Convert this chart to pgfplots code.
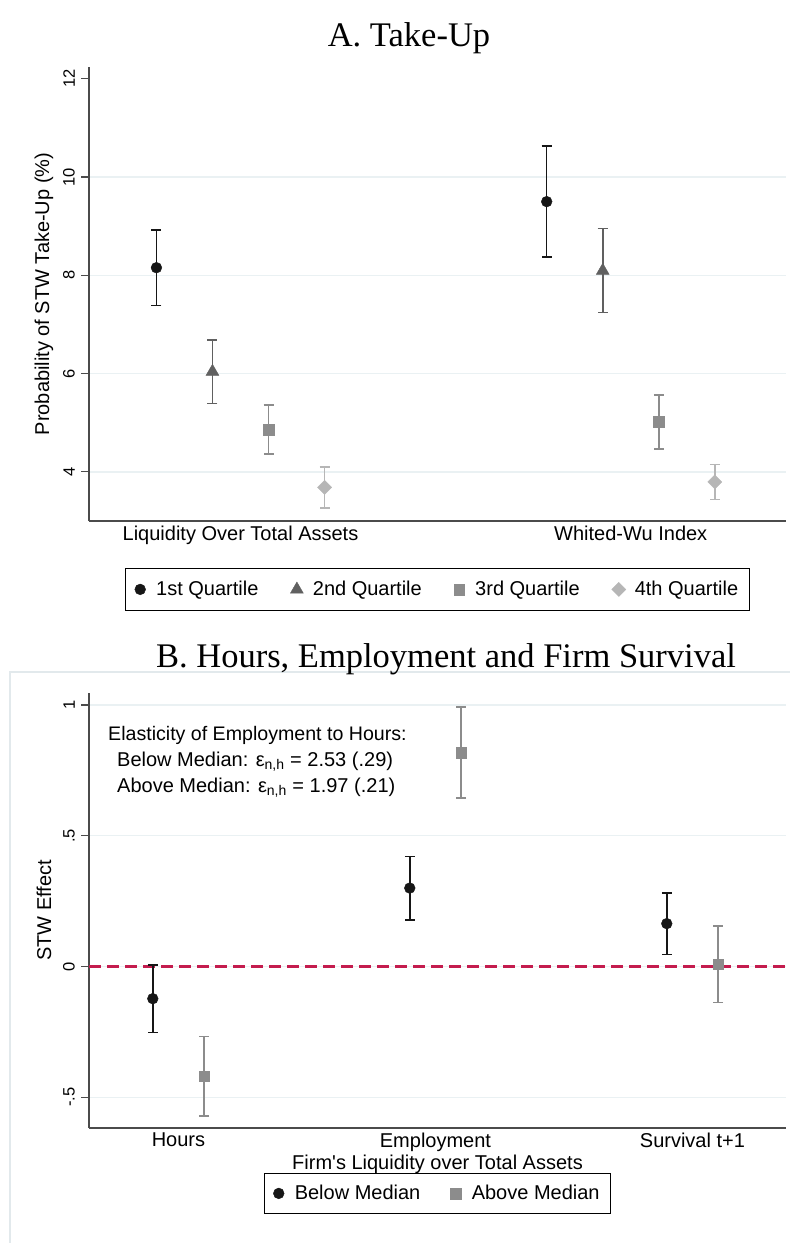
\documentclass[border=0pt]{standalone}
\usepackage{pgfplots}
\pgfplotsset{compat=1.18}
\usepackage{pgfplotstable}
\usepackage{fontspec}
\setmainfont{Liberation Sans}
\newfontfamily\titlefont{Liberation Serif}

\definecolor{qa}{RGB}{22,22,22}
\definecolor{qb}{RGB}{96,96,96}
\definecolor{qc}{RGB}{140,140,140}
\definecolor{qd}{RGB}{182,182,182}
\definecolor{gridc}{RGB}{234,241,243}
\definecolor{axc}{RGB}{75,75,75}
\definecolor{refc}{RGB}{196,28,78}
\definecolor{framec}{RGB}{226,233,236}

\pgfplotstableread{
x y ep em
0.7846 8.155 0.765 0.765
1.7846 9.500 1.130 1.130
}\tqa
\pgfplotstableread{
x y ep em
0.9282 6.040 0.650 0.650
1.9282 8.095 0.855 0.855
}\tqb
\pgfplotstableread{
x y ep em
1.0718 4.860 0.500 0.500
2.0718 5.020 0.550 0.550
}\tqc
\pgfplotstableread{
x y ep em
1.2154 3.685 0.415 0.415
2.2154 3.795 0.355 0.355
}\tqd
\pgfplotstableread{
x y ep em
0.9 -0.123 0.129 0.129
1.9 0.300 0.121 0.121
2.9 0.164 0.118 0.118
}\tbelow
\pgfplotstableread{
x y ep em
1.1 -0.4195 0.1515 0.1515
2.1 0.8185 0.1735 0.1735
3.1 0.0085 0.1465 0.1465
}\tabove

\pgfplotsset{
  stata/.style={
    scale only axis, width=697pt,
    axis x line*=bottom, axis y line*=left,
    axis line style={-, draw=axc, line width=1.2pt},
    ymajorgrids, major grid style={draw=gridc, line width=1.3pt},
    tick align=outside, major tick length=7.5pt,
    ytick style={draw=axc, line width=1.2pt},
    xtick style={draw=none},
    yticklabel style={xshift=-6.5pt, rotate=90, anchor=south, inner sep=0pt, font=\fontsize{16.5}{18}\selectfont},
    xticklabel style={anchor=north, inner sep=0pt, yshift=2.5pt, font=\fontsize{20}{24}\selectfont},
    label style={font=\fontsize{20}{24}\selectfont},
    ylabel style={at={(axis description cs:-0.0646,0.5)}, rotate=0, anchor=center},
    clip=false,
    legend cell align=left,
  },
  limg/.style n args={4}{legend image code/.code={%
    \node[draw=none, fill=none, inner sep=0pt, outer sep=0pt, minimum width=14pt, minimum height=2pt] at (0pt,0pt) {};
    \begin{scope}[fill=#1, draw=#1, line width=0.4pt, rotate=#4]
      \pgfsetplotmarksize{#3}\pgfuseplotmark{#2}
    \end{scope}}},
  ebar/.style={only marks, color=#1, every mark/.append style={fill=#1, draw=#1, solid, line width=0.4pt},
    error bars/.cd, y dir=both, y explicit,
    error bar style={line width=1.6pt, color=#1},
    error mark options={rotate=90, mark size=5pt, line width=1.6pt, color=#1}},
}

\begin{document}
\begin{tikzpicture}[x=1pt,y=1pt]
\path[use as bounding box] (0,0) rectangle (790,-1243);

% Panel B frame
\draw[framec, line width=1.2pt] (10,-1243) -- (10,-672) -- (790,-672);

% Titles
\node[anchor=base, font=\titlefont\fontsize{34.5}{40}\selectfont] at (409,-46) {A. Take-Up};
\node[anchor=base, font=\titlefont\fontsize{34.5}{40}\selectfont] at (446,-667) {B. Hours, Employment and Firm Survival};

% Panel A
\begin{axis}[stata, at={(89pt,-521pt)}, anchor=south west, height=454pt,
  xmin=0.6118, xmax=2.3978, ymin=3, ymax=12.24,
  xtick={1,2}, xticklabels={Liquidity Over Total Assets, Whited-Wu Index},
  ytick={4,6,8,10}, yticklabels={4,6,8,10},
  extra y ticks={12}, extra y tick labels={12}, extra tick style={grid=none},
  ylabel={Probability of STW Take-Up (\%)},
  legend style={at={(0.5,0)}, anchor=north, yshift=-47pt, legend columns=4, draw=black, line width=0.8pt,
    font=\fontsize{20}{24}\selectfont, inner xsep=9pt, inner ysep=11pt,
    /tikz/every odd column/.append style={column sep=0pt},
    /tikz/every even column/.append style={column sep=30pt}},
]
\addplot[mark=*, mark size=5.4pt, limg={qa}{*}{5.4pt}{0}, ebar=qa] table[x=x, y=y, y error plus=ep, y error minus=em] {\tqa};
\addlegendentry{1st Quartile}
\addplot[mark=triangle*, mark size=7.4pt, limg={qb}{triangle*}{7.4pt}{0}, ebar=qb] table[x=x, y=y, y error plus=ep, y error minus=em] {\tqb};
\addlegendentry{2nd Quartile}
\addplot[mark=square*, mark size=5.4pt, limg={qc}{square*}{5.4pt}{0}, ebar=qc] table[x=x, y=y, y error plus=ep, y error minus=em] {\tqc};
\addlegendentry{3rd Quartile}
\addplot[mark=square*, mark size=5pt, every mark/.append style={rotate=45}, limg={qd}{square*}{5pt}{45}, ebar=qd] table[x=x, y=y, y error plus=ep, y error minus=em] {\tqd};
\addlegendentry{4th Quartile}
\end{axis}

% Panel B
\begin{axis}[stata, at={(89pt,-1128pt)}, anchor=south west, height=435pt,
  xmin=0.6518, xmax=3.364, ymin=-0.6176, ymax=1.0459,
  xtick={1,2,3}, xticklabels={Hours, Employment, Survival t+1},
  ytick={-0.5,0,0.5,1}, yticklabels={-.5,0,.5,1},
  ylabel={STW Effect},
  xlabel={Firm\textquotesingle s Liquidity over Total Assets},
  xlabel style={at={(axis description cs:0.5,-0.0828)}, anchor=center},
  legend style={at={(0.5,0)}, anchor=north, yshift=-45pt, legend columns=2, draw=black, line width=0.8pt,
    font=\fontsize{20}{24}\selectfont, inner xsep=9pt, inner ysep=10pt,
    /tikz/every odd column/.append style={column sep=0pt},
    /tikz/every even column/.append style={column sep=28pt}},
]
\addplot[forget plot, refc, line width=2.2pt, dash pattern=on 12pt off 6pt] coordinates {(0.6518,0) (3.364,0)};
\addplot[mark=*, mark size=5.4pt, limg={qa}{*}{5.4pt}{0}, ebar=qa] table[x=x, y=y, y error plus=ep, y error minus=em] {\tbelow};
\addlegendentry{Below Median}
\addplot[mark=square*, mark size=5.4pt, limg={qc}{square*}{5.4pt}{0}, ebar=qc] table[x=x, y=y, y error plus=ep, y error minus=em] {\tabove};
\addlegendentry{Above Median}
\end{axis}

% Annotation in panel B
\node[anchor=base west, inner sep=0pt, font=\fontsize{19.6}{23}\selectfont] at (108,-740) {Elasticity of Employment to Hours:};
\node[anchor=base west, inner sep=0pt, font=\fontsize{20}{24}\selectfont] at (117,-766) {Below Median: ε\textsubscript{n,h} = 2.53 (.29)};
\node[anchor=base west, inner sep=0pt, font=\fontsize{20}{24}\selectfont] at (117,-792) {Above Median: ε\textsubscript{n,h} = 1.97 (.21)};
\end{tikzpicture}
\end{document}
